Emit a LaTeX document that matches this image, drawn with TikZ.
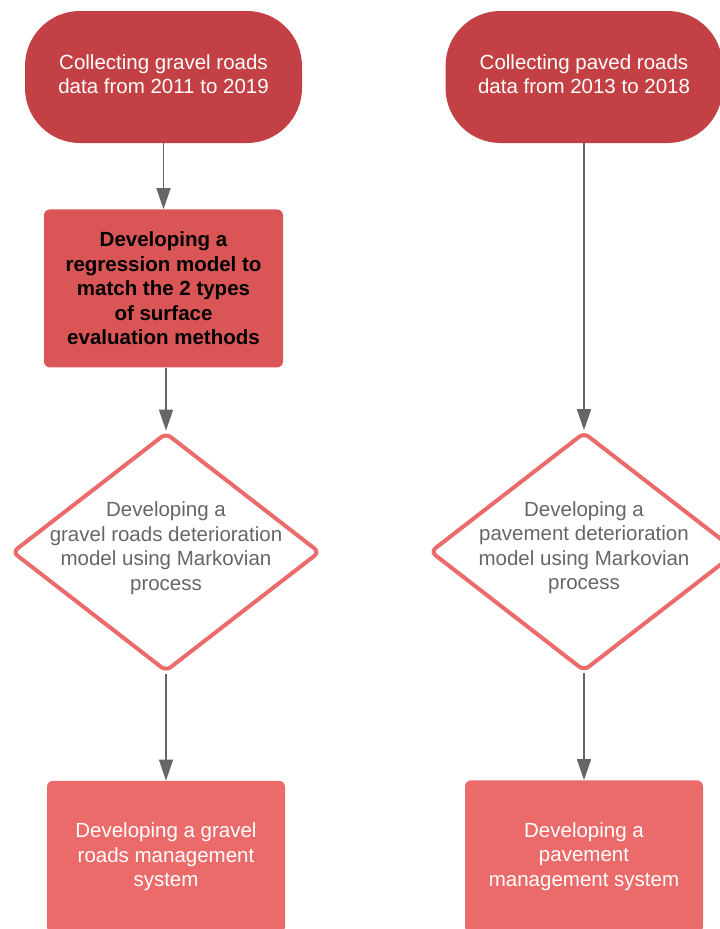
\documentclass[tikz,border=0pt]{standalone}
\usepackage{fontspec}
\setmainfont{Liberation Sans}
\usepackage{xcolor}
\usepackage{tikz}
\usetikzlibrary{shapes.geometric,arrows.meta,positioning}
\definecolor{colorTfill}{HTML}{C34144}
\definecolor{colorRfill}{HTML}{D95556}
\definecolor{colorMfill}{HTML}{EB6A6A}
\definecolor{colorDstroke}{HTML}{EB6A6A}
\definecolor{colorText}{HTML}{666666}
\definecolor{colorArrow}{HTML}{666666}

\begin{document}
\begin{tikzpicture}[
    x=1pt, y=1pt,
    box/.style={rectangle, align=center, inner sep=4pt, font=\fontsize{20.5}{24.5}\selectfont},
    terminal/.style={box, fill=colorTfill, text=white, rounded corners=55pt, minimum width=277pt, minimum height=132pt},
    regress/.style={box, fill=colorRfill, text=black, rounded corners=6pt, minimum width=239pt, minimum height=158pt, font=\fontsize{20.5}{24.5}\selectfont\bfseries},
    system/.style={box, fill=colorMfill, text=white, rounded corners=6pt, minimum width=238pt, minimum height=152pt},
    decision/.style={diamond, draw=colorDstroke, fill=white, line width=4pt, rounded corners=6pt, inner sep=0pt, minimum width=308pt, minimum height=239pt},
    dtext/.style={align=center, text=colorText, font=\fontsize{20.5}{24.5}\selectfont},
    arrow/.style={-{Triangle[length=21pt,width=14pt]}, line width=1.5pt, draw=colorArrow}
]
    \useasboundingbox (0,0) rectangle (720,-929);

    % Nodes
    \node[terminal] (gravel_data) at (163.5,-77) {Collecting gravel roads\\data from 2011 to 2019\rule[-6pt]{0pt}{0pt}};
    \node[regress, below=66pt of gravel_data] (regression) {Developing a\\regression model to\\match the 2 types\\of surface\\evaluation methods};
    \node[decision, below=63pt of regression, xshift=2.5pt, label={[dtext, yshift=4pt]center:Developing a\\gravel roads deterioration\\model using Markovian\\process}] (gravel_model) {};
    \node[system, below=107pt of gravel_model] (gravel_pms) {Developing a gravel\\roads management\\system};

    \node[terminal] (paved_data) at (584,-77) {Collecting paved roads\\data from 2013 to 2018\rule[-6pt]{0pt}{0pt}};
    \node[decision, below=287pt of paved_data, label={[dtext, yshift=4pt]center:Developing a\\pavement deterioration\\model using Markovian\\process}] (paved_model) {};
    \node[system, below=107pt of paved_model] (paved_pms) {Developing a\\pavement\\management system};

    % Edges
    \draw[arrow] (gravel_data) -- (regression);
    \draw[arrow] (regression.south -| gravel_model.north) -- (gravel_model);
    \draw[arrow] (gravel_model) -- (gravel_pms);
    \draw[arrow] (paved_data) -- (paved_model);
    \draw[arrow] (paved_model) -- (paved_pms);

\end{tikzpicture}
\end{document}
